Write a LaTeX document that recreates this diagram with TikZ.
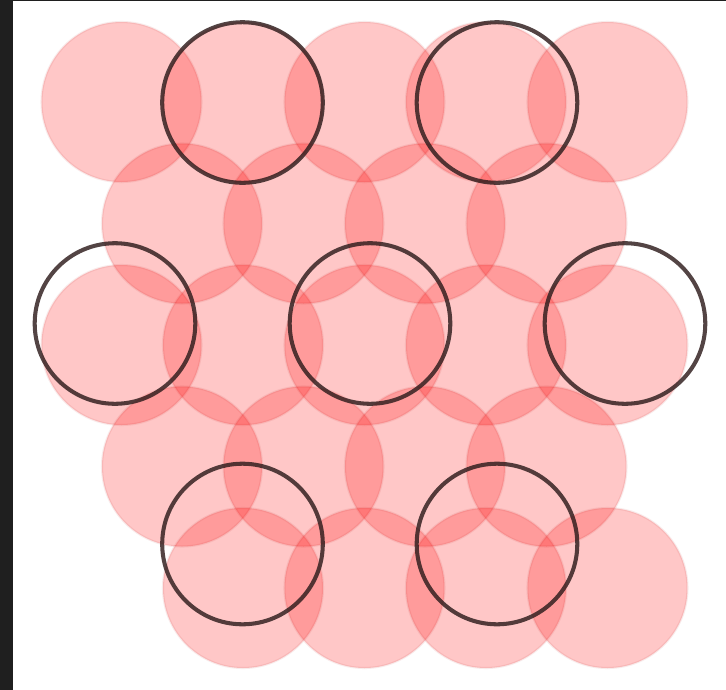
\documentclass[tikz,border=0pt]{standalone}
\usepackage{tikz}
\definecolor{framegray}{HTML}{1F1F1F}
\definecolor{ringgray}{HTML}{2E1C1C}

\begin{document}
\begin{tikzpicture}[
    x=0.01cm, y=-0.01cm,
    disc/.style={fill=red, fill opacity=0.22, draw=red!70!black, draw opacity=0.08, line width=0.6pt},
    ring/.style={draw=ringgray, draw opacity=0.82, line width=1.15pt}
  ]
  \useasboundingbox (0,0) rectangle (726,690);
  \fill[white] (0,0) rectangle (726,690);

  % Red discs, rows of the lattice
  \foreach \cx in {121.5, 243, 364.5, 486, 607.5} {
    \path[disc] (\cx, 102) circle (80);
    \path[disc] (\cx, 345) circle (80);
  }
  \foreach \cx in {182, 303.5, 425, 546.5} {
    \path[disc] (\cx, 223.5) circle (80);
    \path[disc] (\cx, 466.5) circle (80);
  }
  \foreach \cx in {243, 364.5, 486, 607.5}
    \path[disc] (\cx, 588) circle (80);

  % Dark rings
  \draw[ring] (242.5, 102.5) circle (80.3);
  \draw[ring] (497, 102.5) circle (80.3);
  \draw[ring] (115, 323.5) circle (80.3);
  \draw[ring] (370, 323.5) circle (80.3);
  \draw[ring] (625, 323.5) circle (80.3);
  \draw[ring] (242.5, 544) circle (80.3);
  \draw[ring] (497, 544) circle (80.3);

  % Frame edges
  \fill[framegray] (0,0) rectangle (13,690);
  \fill[framegray] (0,0) rectangle (726,1.2);
\end{tikzpicture}
\end{document}
